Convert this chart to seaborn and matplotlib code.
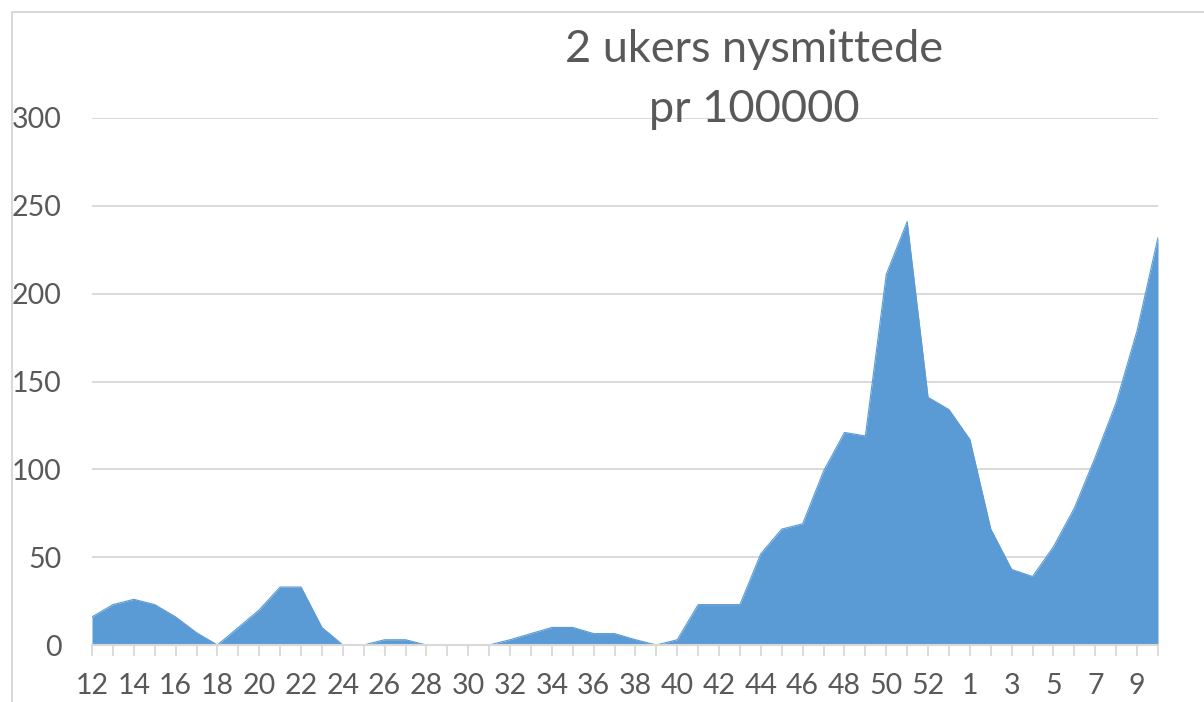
import matplotlib
matplotlib.use("Agg")
import matplotlib.pyplot as plt
import seaborn as sns
import pandas as pd
import numpy as np
from matplotlib.patches import Rectangle

weeks = list(range(12, 54)) + list(range(1, 11))
values = [16, 23, 26, 23, 16, 7, 0, 10, 20, 33, 33, 10, 0, 0, 3, 3, 0, 0, 0, 0,
          3, 6.5, 10, 10, 6.5, 6.5, 3, 0, 3, 23, 23, 23, 52, 66, 69, 99, 121, 119,
          211, 241, 141, 134, 117, 66, 43, 39, 56, 78, 107, 138, 179, 232]
title_lines = ["2 ukers nysmittede", "pr 100000"]
yticks = [0, 50, 100, 150, 200, 250, 300]

df = pd.DataFrame({"pos": np.arange(len(weeks)), "week": weeks, "value": values})

sns.set_theme(style="white")
plt.rcParams['font.family'] = ['Lato', 'DejaVu Sans']

W, H = 1204, 702
fig = plt.figure(figsize=(W / 100, H / 100), dpi=100)
ax = fig.add_axes([92 / W, 1 - 645 / H, (1158 - 92) / W, (645 - 118) / H])

color = "#5B9BD5"
sns.lineplot(data=df, x="pos", y="value", ax=ax, color=color, linewidth=0.8)
ax.fill_between(df["pos"], df["value"], 0, color=color, linewidth=0)

ax.set_xlim(0, len(weeks) - 1)
ax.set_ylim(0, 300)
ax.set_yticks(yticks)
ax.set_yticklabels([str(v) for v in yticks])
ax.set_xticks(df["pos"])
ax.set_xticklabels([str(w) if i % 2 == 0 else "" for i, w in enumerate(weeks)])
ax.set_xlabel("")
ax.set_ylabel("")

ax.grid(axis="y", color="#D9D9D9", linewidth=1.4)
ax.set_axisbelow(True)
for s in ["top", "right", "left"]:
    ax.spines[s].set_visible(False)
ax.spines["bottom"].set_color("#D9D9D9")
ax.spines["bottom"].set_linewidth(1.5)
ax.spines["bottom"].set_zorder(5)

ax.tick_params(axis="x", length=8, width=1.3, color="#D9D9D9", labelsize=20.5,
               labelcolor="#595959", pad=12, bottom=True, direction="out")
ax.tick_params(axis="y", length=0, labelsize=20.5, labelcolor="#595959", pad=22)

fig.text(754 / W, 1 - 50 / H, title_lines[0], ha="center", va="center",
         fontsize=32.5, color="#595959")
fig.text(754 / W, 1 - 110 / H, title_lines[1], ha="center", va="center",
         fontsize=32.5, color="#595959")

fig.patches.append(Rectangle((12 / W, -0.1), 1.2, 1 - 12 / H + 0.1,
                             transform=fig.transFigure, fill=False,
                             edgecolor="#D9D9D9", linewidth=1.5))

fig.savefig("out.png", dpi=100)
